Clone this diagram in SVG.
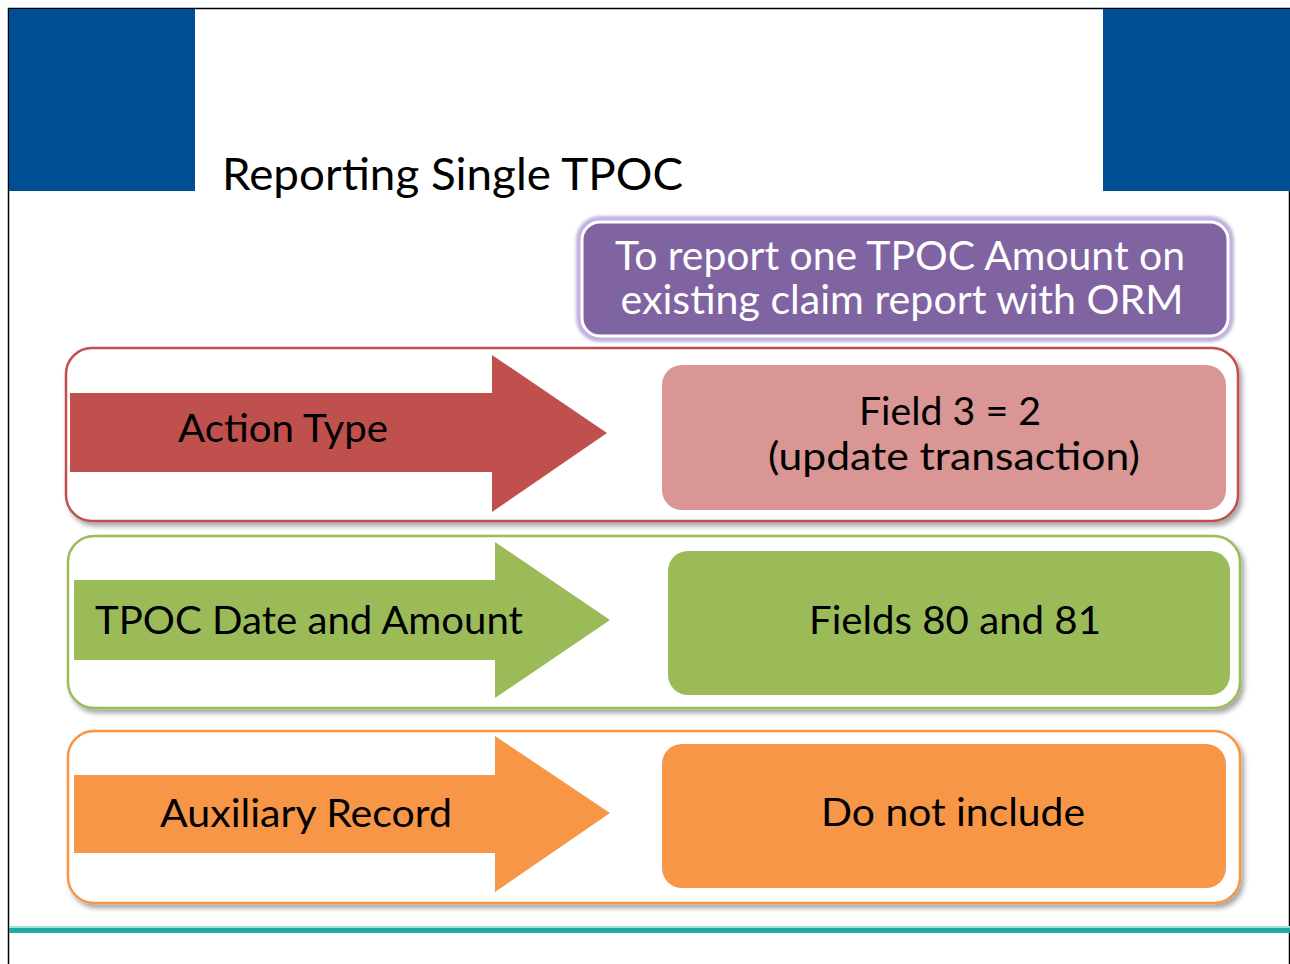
<svg xmlns="http://www.w3.org/2000/svg" width="1290" height="964" viewBox="0 0 1290 964">
<style>
.t{font-family:Lato,"Liberation Sans",sans-serif;fill:#000}
.w{font-family:Lato,"Liberation Sans",sans-serif;fill:#fff}
.box{fill:#fff;stroke-width:2.5}
</style>
<defs>
<filter id="sh" x="-5%" y="-10%" width="110%" height="125%">
<feDropShadow dx="3" dy="4" stdDeviation="2.5" flood-color="#000" flood-opacity="0.35"/>
</filter>
<filter id="glow" x="-5%" y="-15%" width="110%" height="130%">
<feGaussianBlur stdDeviation="1.5"/>
</filter>
</defs>
<rect x="0" y="0" width="1290" height="964" fill="#fff"/>
<rect x="8.5" y="8.5" width="1281" height="1000" fill="none" stroke="#000" stroke-width="1.5"/>
<g id="header">
<rect x="9" y="9" width="186" height="182" fill="#004f95"/>
<rect x="1103" y="9" width="187" height="182" fill="#004f95"/>
<text class="t" x="222" y="190" font-size="44" textLength="461" lengthAdjust="spacingAndGlyphs">Reporting Single TPOC</text>
</g>
<g id="intro">
<rect x="576" y="216" width="658" height="126" rx="24" fill="#c3b0de" filter="url(#glow)"/>
<rect x="582" y="222" width="646" height="114" rx="18" fill="#8064a2" stroke="#fff" stroke-width="3"/>
<text class="w" x="900" y="270" font-size="40" text-anchor="middle" textLength="570" lengthAdjust="spacingAndGlyphs">To report one TPOC Amount on</text>
<text class="w" x="902" y="314" font-size="40" text-anchor="middle" textLength="563" lengthAdjust="spacingAndGlyphs">existing claim report with ORM</text>
</g>
<g id="row-action">
<rect class="box" x="66" y="348" width="1172" height="173" rx="26" stroke="#c0504d" filter="url(#sh)"/>
<polygon points="70,393 492,393 492,355 607,433 492,512 492,472 70,472" fill="#c0504d"/>
<text class="t" x="178" y="442" font-size="38" textLength="210" lengthAdjust="spacingAndGlyphs">Action Type</text>
<rect x="662" y="365" width="564" height="145" rx="20" fill="#d99694"/>
<text class="t" x="950" y="425" font-size="38" text-anchor="middle" textLength="182" lengthAdjust="spacingAndGlyphs">Field 3 = 2</text>
<text class="t" x="954" y="470" font-size="38" text-anchor="middle" textLength="372" lengthAdjust="spacingAndGlyphs">(update transaction)</text>
</g>
<g id="row-tpoc">
<rect class="box" x="68" y="536" width="1172" height="172" rx="26" stroke="#9bbb59" filter="url(#sh)"/>
<polygon points="74,580 495,580 495,542 610,620 495,698 495,660 74,660" fill="#9bbb59"/>
<text class="t" x="95" y="634" font-size="38" textLength="428" lengthAdjust="spacingAndGlyphs">TPOC Date and Amount</text>
<rect x="668" y="551" width="562" height="144" rx="20" fill="#9bbb59"/>
<text class="t" x="955" y="634" font-size="38" text-anchor="middle" textLength="292" lengthAdjust="spacingAndGlyphs">Fields 80 and 81</text>
</g>
<g id="row-aux">
<rect class="box" x="68" y="731" width="1172" height="172" rx="26" stroke="#f79646" filter="url(#sh)"/>
<polygon points="74,775 495,775 495,736 610,813 495,892 495,853 74,853" fill="#f79646"/>
<text class="t" x="160" y="827" font-size="38" textLength="292" lengthAdjust="spacingAndGlyphs">Auxiliary Record</text>
<rect x="662" y="744" width="564" height="144" rx="20" fill="#f79646"/>
<text class="t" x="953" y="826" font-size="38" text-anchor="middle" textLength="264" lengthAdjust="spacingAndGlyphs">Do not include</text>
</g>
<g id="connectors"></g>
<g id="footer">
<rect x="9" y="926" width="1281" height="2" fill="#9fe0dc"/>
<rect x="9" y="928" width="1281" height="5" fill="#1fa9a6"/>
</g>
</svg>
